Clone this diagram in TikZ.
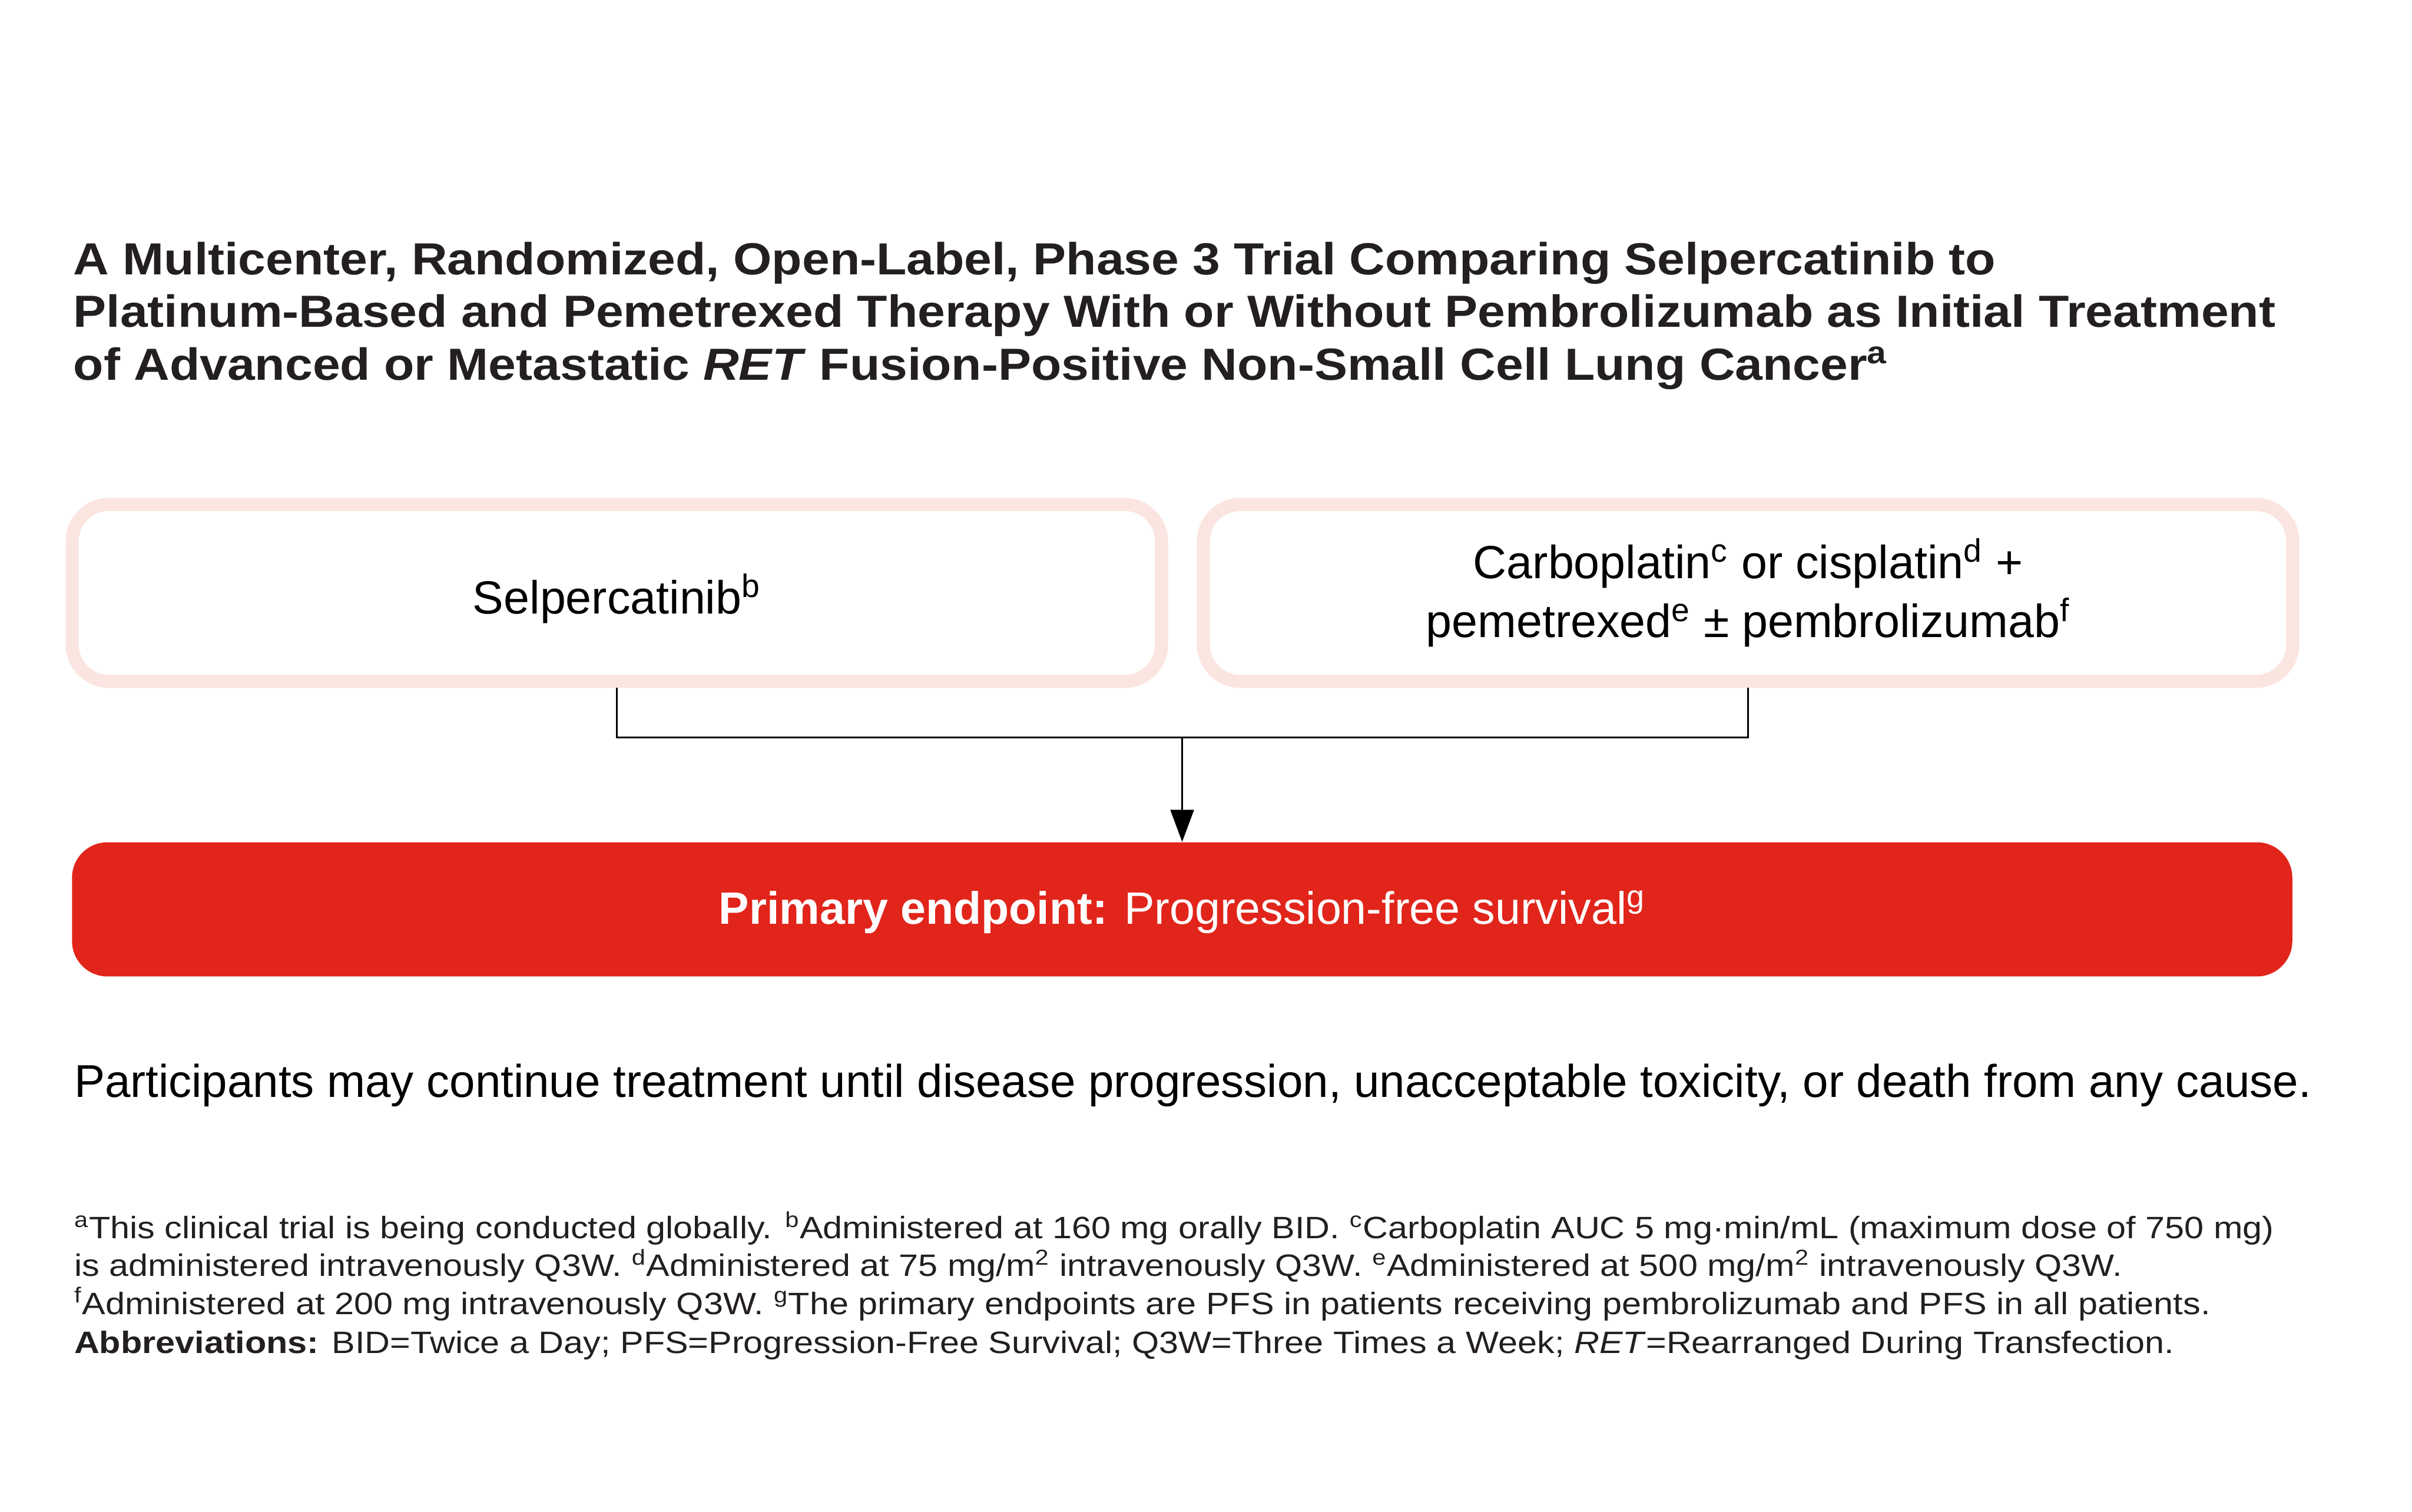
\documentclass[tikz,border=0pt]{standalone}
\usepackage{fontspec}
\setmainfont{Liberation Sans}
\newfontfamily\titlefont[FakeStretch=1.10]{Liberation Sans}
\newfontfamily\notefont[FakeStretch=1.13]{Liberation Sans}
\usetikzlibrary{positioning, arrows.meta}

\definecolor{ink}{HTML}{231F20}
\definecolor{blush}{HTML}{FBE5E1}
\definecolor{alarm}{HTML}{E1251B}

\tikzset{
  armbox/.style={draw=blush, line width=6.05pt, rounded corners=0.6cm,
    minimum width=17.7cm, minimum height=2.875cm, inner sep=0pt,
    align=center, text=black, font=\fontsize{21.5}{27.3}\selectfont},
  endbox/.style={fill=alarm, rounded corners=0.575cm, minimum width=36.075cm,
    minimum height=2.18cm, inner sep=0pt, text=white,
    text height=0.6cm, text depth=0.125cm,
    font=\fontsize{21}{25}\selectfont},
  titleline/.style={anchor=base west, inner sep=0pt, text=ink,
    font=\titlefont\fontsize{20.8}{24.5}\selectfont\bfseries},
  noteline/.style={anchor=base west, inner sep=0pt, text=ink,
    font=\notefont\fontsize{14.3}{17.6}\selectfont},
  link/.style={line width=0.75pt, draw=black}
}

\begin{document}
\begin{tikzpicture}[x=0.025cm, y=-0.025cm]
  \useasboundingbox (0,0) rectangle (1568,983);

  % title
  \node[titleline] (title1) at (47.5,178.5) {A Multicenter, Randomized, Open-Label, Phase 3 Trial Comparing Selpercatinib to};
  \node[titleline] (title2) at (47.5,212.7) {Platinum-Based and Pemetrexed Therapy With or Without Pembrolizumab as Initial Treatment};
  \node[titleline] (title3) at (47.5,247.1) {of Advanced or Metastatic \textit{RET} Fusion-Positive Non-Small Cell Lung Cancer\textsuperscript{a}};

  % treatment arms
  \node[armbox, text height=0.8cm, text depth=0.125cm] (selper) at (401,385.5) {Selpercatinib\textsuperscript{b}};
  \node[armbox, right=0.4675cm of selper] (chemo) {Carboplatin\textsuperscript{c} or cisplatin\textsuperscript{d} +\\pemetrexed\textsuperscript{e} ± pembrolizumab\textsuperscript{f}};

  % endpoint
  \node[endbox] (endpt) at (768.5,591.25) {\textbf{Primary endpoint:} Progression-free survival\textsuperscript{g}};

  \coordinate (join) at (768.5,479.6);
  \draw[link] (selper.south) |- (join) -| (chemo.south);
  \draw[link, -{Triangle[length=0.52cm, width=0.38cm]}] (join) -- (endpt.north);

  \node[anchor=base west, inner sep=0pt, font=\fontsize{21.25}{25}\selectfont] (cont) at (48,713.4) {Participants may continue treatment until disease progression, unacceptable toxicity, or death from any cause.};

  % footnotes
  \node[noteline] (note1) at (48,805.3) {\textsuperscript{a}This clinical trial is being conducted globally. \textsuperscript{b}Administered at 160 mg orally BID. \textsuperscript{c}Carboplatin AUC 5 mg·min/mL (maximum dose of 750 mg)};
  \node[noteline] (note2) at (48,829.9) {is administered intravenously Q3W. \textsuperscript{d}Administered at 75 mg/m\textsuperscript{2} intravenously Q3W. \textsuperscript{e}Administered at 500 mg/m\textsuperscript{2} intravenously Q3W.};
  \node[noteline] (note3) at (48,854.5) {\textsuperscript{f}Administered at 200 mg intravenously Q3W. \textsuperscript{g}The primary endpoints are PFS in patients receiving pembrolizumab and PFS in all patients.};
  \node[noteline] (note4) at (48,880) {\textbf{Abbreviations:} BID=Twice a Day; PFS=Progression-Free Survival; Q3W=Three Times a Week; \textit{RET}=Rearranged During Transfection.};
\end{tikzpicture}
\end{document}
